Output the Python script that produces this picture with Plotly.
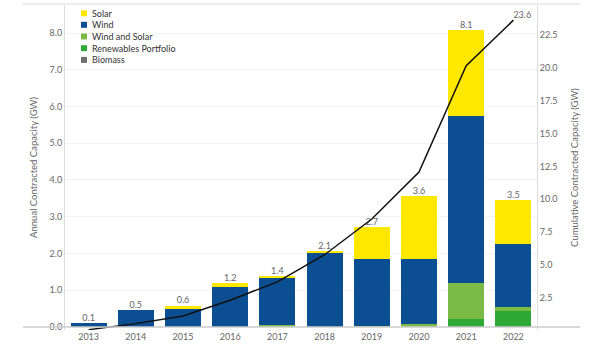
import plotly.graph_objects as go
import numpy as np

# Contracted capacity by year (GW)
years = ["2013", "2014", "2015", "2016", "2017", "2018", "2019", "2020", "2021", "2022"]
solar = [0.0, 0.0, 0.08, 0.12, 0.04, 0.06, 0.86, 1.73, 2.33, 1.20]
wind = [0.10, 0.46, 0.50, 1.08, 1.29, 2.00, 1.82, 1.77, 4.53, 1.71]
wind_and_solar = [0.0, 0.0, 0.0, 0.0, 0.06, 0.0, 0.03, 0.07, 1.00, 0.11]
renewables_portfolio = [0.0, 0.0, 0.0, 0.0, 0.0, 0.0, 0.0, 0.0, 0.21, 0.44]
biomass = [0.0, 0.0, 0.0, 0.0, 0.0, 0.0, 0.0, 0.0, 0.0, 0.0]

left_ticks = [0, 1, 2, 3, 4, 5, 6, 7, 8]
right_ticks = [2.5, 5, 7.5, 10, 12.5, 15, 17.5, 20, 22.5]

series = [
    ("Biomass", biomass, "#6f6f6f"),
    ("Renewables Portfolio", renewables_portfolio, "#2ea836"),
    ("Wind and Solar", wind_and_solar, "#7cba46"),
    ("Wind", wind, "#0b4e91"),
    ("Solar", solar, "#ffe800"),
]

totals = np.sum([s[1] for s in series], axis=0)
cumulative = np.cumsum(totals)

FONT = "Lato"
GRAY = "#666666"

fig = go.Figure()
for name, vals, color in series:
    fig.add_trace(go.Bar(
        x=years, y=vals, name=name, marker=dict(color=color, line=dict(width=0)),
        width=0.76, showlegend=False,
    ))

# Totals above each bar
fig.add_trace(go.Scatter(
    x=years, y=totals, mode="text", text=[f"{t:.1f}" for t in totals],
    textposition="top center", textfont=dict(size=9, color=GRAY, family=FONT),
    showlegend=False, hoverinfo="skip",
))

# Cumulative line on the secondary axis
fig.add_trace(go.Scatter(
    x=years, y=cumulative, mode="lines", yaxis="y2",
    line=dict(color="#111111", width=1.5), showlegend=False,
))
fig.add_trace(go.Scatter(
    x=[years[-1]], y=[cumulative[-1]], mode="text", yaxis="y2",
    text=[f"{cumulative[-1]:.1f}"], textposition="top right",
    textfont=dict(size=9, color=GRAY, family=FONT), showlegend=False, hoverinfo="skip",
))

# Hand-built legend (compact spacing)
W_PLOT, H_PLOT, L, T = 472, 325, 65, 5
def px(x):
    return (x - L) / W_PLOT
def py(y):
    return (T + H_PLOT - y) / H_PLOT

shapes = []
annotations = []
legend_rows = [13.3, 24.8, 36.5, 48.2, 59.9]
for (name, _, color), yc in zip(reversed(series), legend_rows):
    shapes.append(dict(type="rect", xref="paper", yref="paper",
                       x0=px(81), x1=px(87), y0=py(yc + 3), y1=py(yc - 3),
                       fillcolor=color, line=dict(width=0)))
    annotations.append(dict(x=px(90), y=py(yc), xref="paper", yref="paper",
                            text=name, showarrow=False, xanchor="left", yanchor="middle",
                            font=dict(size=9, color="#333333", family=FONT)))

# Frame lines above and below the plot
shapes.append(dict(type="line", xref="paper", yref="paper", x0=px(23), x1=px(580),
                   y0=py(4), y1=py(4), line=dict(color="#d9d9d9", width=1)))
shapes.append(dict(type="line", xref="paper", yref="y", x0=px(23), x1=px(580),
                   y0=0, y1=0, line=dict(color="#cccccc", width=1.5)))

fig.update_layout(
    width=600, height=347,
    margin=dict(l=L, r=600 - L - W_PLOT, t=T, b=347 - T - H_PLOT),
    paper_bgcolor="white", plot_bgcolor="white",
    barmode="stack", bargap=0.24,
    font=dict(family=FONT, size=9, color=GRAY),
    xaxis=dict(type="category", range=[-0.5, 9.5], showgrid=False, zeroline=False,
               showline=False, ticks="", tickfont=dict(size=9, color=GRAY)),
    yaxis=dict(range=[-0.082, 8.762], tickvals=left_ticks, tickformat=".1f",
               showgrid=True, gridcolor="#f3f3f3", gridwidth=1, zeroline=False,
               showline=True, linecolor="#dddddd", linewidth=1, ticks="",
               tickfont=dict(size=9, color=GRAY),
               title=dict(text="Annual Contracted Capacity (GW)", standoff=10,
                          font=dict(size=9.5, color=GRAY))),
    yaxis2=dict(range=[0.076, 24.75], overlaying="y", side="right",
                tickvals=right_ticks, tickformat=".1f", showgrid=False, zeroline=False,
                showline=True, linecolor="#dddddd", linewidth=1, ticks="",
                tickfont=dict(size=9, color=GRAY),
                title=dict(text="Cumulative Contracted Capacity (GW)", standoff=14,
                           font=dict(size=9.5, color=GRAY))),
    shapes=shapes, annotations=annotations, showlegend=False,
)

fig.write_html("out.html")
